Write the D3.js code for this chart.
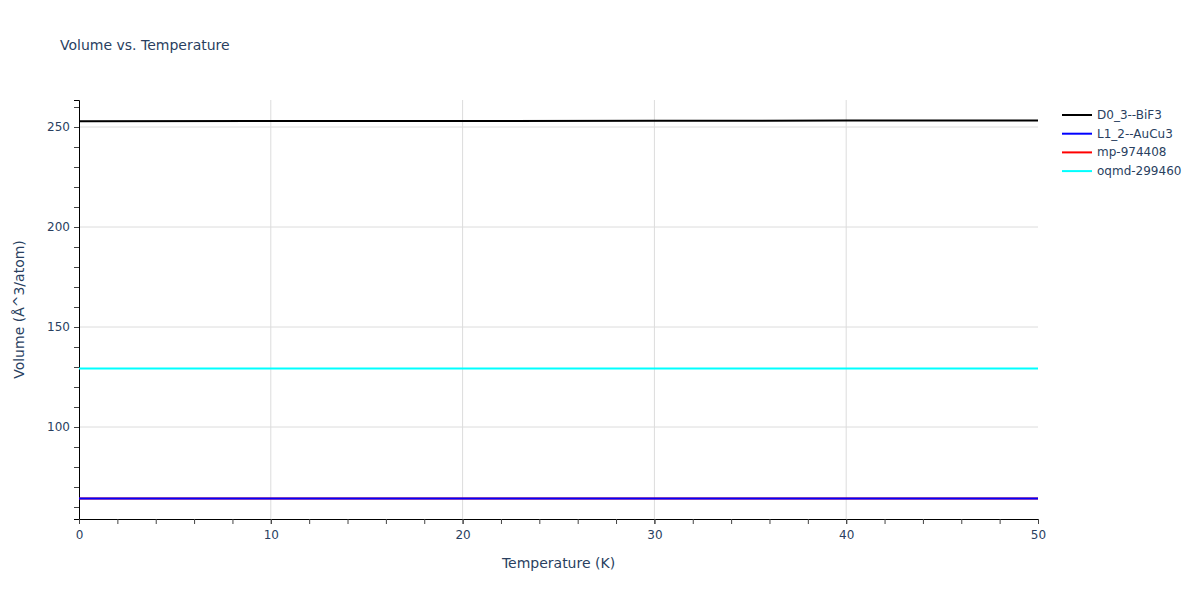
<!DOCTYPE html>
<html>
<head>
<meta charset="utf-8">
<script src="https://cdn.jsdelivr.net/npm/d3@7"></script>
<style>
body { margin: 0; background: #fff; }
text { font-family: "DejaVu Sans", Verdana, sans-serif; }
</style>
</head>
<body>
<div id="chart"></div>
<script>
var svgWidth = 1200;
var svgHeight = 600;

var margin = { t: 100, r: 162, b: 81, l: 79 };
var width = svgWidth - margin.l - margin.r;
var height = svgHeight - margin.t - margin.b;

// data
var temps = [0, 10, 20, 30, 40, 50];
var seriesNames = ["D0_3--BiF3", "L1_2--AuCu3", "mp-974408", "oqmd-299460"];
var seriesColors = ["black", "blue", "red", "cyan"];
var bif3 = [252.9, 253.0, 253.05, 253.1, 253.2, 253.3];
var aucu3 = [64.2, 64.2, 64.2, 64.2, 64.2, 64.2];
var mp974408 = [64.2, 64.2, 64.2, 64.2, 64.2, 64.2];
var oqmd299460 = [129.3, 129.3, 129.3, 129.3, 129.3, 129.3];
var xTicks = [0, 10, 20, 30, 40, 50];
var yTicks = [100, 150, 200, 250];

var allSeries = [bif3, aucu3, mp974408, oqmd299460];
var textColor = "#2a3f5f";

var svg = d3.select("#chart")
    .append("svg")
    .attr("width", svgWidth)
    .attr("height", svgHeight);

var chartGroup = svg.append("g")
    .attr("transform", `translate(${margin.l}, ${margin.t})`);

var xScale = d3.scaleLinear().domain([0, 50]).range([0, width]);
var yScale = d3.scaleLinear().domain([54, 263.5]).range([height, 0]);

// grid
chartGroup.selectAll(".vgrid")
    .data(xTicks.filter(d => d > 0 && d < 50))
    .enter().append("line")
    .attr("x1", d => xScale(d)).attr("x2", d => xScale(d))
    .attr("y1", 0).attr("y2", height)
    .attr("stroke", "#dcdcdc").attr("stroke-width", 1);

chartGroup.selectAll(".hgrid")
    .data(yTicks)
    .enter().append("line")
    .attr("x1", 0).attr("x2", width)
    .attr("y1", d => yScale(d)).attr("y2", d => yScale(d))
    .attr("stroke", "#dcdcdc").attr("stroke-width", 1);

// minor ticks
var xMinor = d3.range(0, 51, 2);
var yMinor = d3.range(60, 264, 10);

var bottomAxis = d3.axisBottom(xScale).tickValues(xMinor).tickSize(5).tickFormat("");
var leftAxis = d3.axisLeft(yScale).tickValues(yMinor).tickSize(5).tickFormat("");

var xg = chartGroup.append("g")
    .attr("transform", `translate(0, ${height})`)
    .call(bottomAxis);
var yg = chartGroup.append("g").call(leftAxis);

// major labels
chartGroup.append("g")
    .attr("transform", `translate(0, ${height})`)
    .call(d3.axisBottom(xScale).tickValues(xTicks).tickSize(5).tickPadding(6))
    .call(g => g.select(".domain").remove())
    .call(g => g.selectAll("text").attr("fill", textColor).attr("font-size", 12));
chartGroup.append("g")
    .call(d3.axisLeft(yScale).tickValues(yTicks).tickSize(5).tickPadding(4))
    .call(g => g.select(".domain").remove())
    .call(g => g.selectAll("text").attr("fill", textColor).attr("font-size", 12));

[xg, yg].forEach(function(g) {
    g.select(".domain").attr("stroke", "black").attr("stroke-width", 1);
});
chartGroup.selectAll(".tick line").attr("stroke", "#444");

// lines
var line = d3.line()
    .x((d, i) => xScale(temps[i]))
    .y(d => yScale(d));

var drawOrder = [0, 3, 2, 1];
drawOrder.forEach(function(k) {
    chartGroup.append("path")
        .datum(allSeries[k])
        .attr("d", line)
        .attr("fill", "none")
        .attr("stroke", seriesColors[k])
        .attr("stroke-width", 2);
});

// titles
svg.append("text")
    .attr("x", 60).attr("y", 50)
    .attr("font-size", 14)
    .attr("fill", textColor)
    .text("Volume vs. Temperature");

svg.append("text")
    .attr("x", margin.l + width / 2).attr("y", 568)
    .attr("text-anchor", "middle")
    .attr("font-size", 14)
    .attr("fill", textColor)
    .text("Temperature (K)");

svg.append("text")
    .attr("transform", `translate(24, ${margin.t + height / 2}) rotate(-90)`)
    .attr("text-anchor", "middle")
    .attr("font-size", 14)
    .attr("fill", textColor)
    .text("Volume (Å^3/atom)");

// legend
var legend = svg.append("g").attr("transform", "translate(1062, 115)");
seriesNames.forEach(function(name, i) {
    var row = legend.append("g").attr("transform", `translate(0, ${i * 18.7})`);
    row.append("line")
        .attr("x1", 0).attr("x2", 30)
        .attr("y1", 0).attr("y2", 0)
        .attr("stroke", seriesColors[i]).attr("stroke-width", 2);
    row.append("text")
        .attr("x", 35).attr("y", 4)
        .attr("font-size", 12)
        .attr("fill", textColor)
        .text(name);
});
</script>
</body>
</html>
